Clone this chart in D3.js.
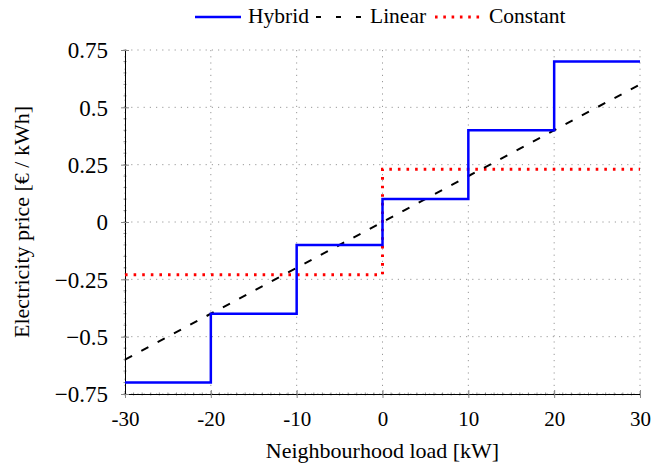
<!DOCTYPE html>
<html>
<head>
<meta charset="utf-8">
<script src="https://cdn.jsdelivr.net/npm/d3@7"></script>
<style>
  body { margin: 0; background: #fff; }
  svg text { font-family: "Liberation Serif", "Times New Roman", Times, serif !important; fill: #000; }
  .grid line { stroke: #999; stroke-dasharray: 1.2,5; }
</style>
</head>
<body>
<svg width="654" height="468"></svg>
<script>
// step edges of the hybrid tariff
var hybridX = [-30, -20, -20, -10, -10, 0, 0, 10, 10, 20, 20, 30];
var hybridY = [-0.7, -0.7, -0.4, -0.4, -0.1, -0.1, 0.1, 0.1, 0.4, 0.4, 0.7, 0.7];
var linearX = [-30, 30];
var linearY = [-0.6, 0.6];
var constantX = [-30, 0, 0, 30];
var constantY = [-0.23, -0.23, 0.23, 0.23];
var xTicks = [-30, -20, -10, 0, 10, 20, 30];
var yTicks = [-0.75, -0.5, -0.25, 0, 0.25, 0.5, 0.75];
var seriesNames = ["Hybrid", "Linear", "Constant"];

var svg = d3.select("svg"),
    margin = {top: 50, right: 14, bottom: 74, left: 125},
    width = +svg.attr("width") - margin.left - margin.right,
    height = +svg.attr("height") - margin.top - margin.bottom;

var x = d3.scaleLinear().domain([-30, 30]).range([0, width]),
    y = d3.scaleLinear().domain([-0.75, 0.75]).range([height, 0]);

var g = svg.append("g")
    .attr("transform", "translate(" + margin.left + "," + margin.top + ")");

// dotted grid
g.append("g").attr("class", "grid")
    .selectAll("line").data(xTicks).enter().append("line")
    .attr("x1", function(d) { return x(d); }).attr("x2", function(d) { return x(d); })
    .attr("y1", 0).attr("y2", height);
g.append("g").attr("class", "grid")
    .selectAll("line").data(yTicks).enter().append("line")
    .attr("y1", function(d) { return y(d); }).attr("y2", function(d) { return y(d); })
    .attr("x1", 0).attr("x2", width);

var fmtY = function(d) { return d < 0 ? "\u2212" + Math.abs(d) : "" + d; };

// minor ticks
var minorX = d3.range(-30, 30.01, 1), minorY = d3.range(-0.75, 0.751, 0.05);
g.append("g").selectAll("line").data(minorX).enter().append("line")
    .attr("x1", function(d) { return x(d); }).attr("x2", function(d) { return x(d); })
    .attr("y1", height - 1.5).attr("y2", height + 1.5)
    .attr("stroke", "#444").attr("stroke-width", 0.6);
g.append("g").selectAll("line").data(minorY).enter().append("line")
    .attr("y1", function(d) { return y(d); }).attr("y2", function(d) { return y(d); })
    .attr("x1", -1.5).attr("x2", 1.5)
    .attr("stroke", "#444").attr("stroke-width", 0.6);

var xAxis = g.append("g")
    .attr("transform", "translate(0," + height + ")")
    .call(d3.axisBottom(x).tickValues(xTicks).tickFormat(function(d) { return String(d); })
        .tickSize(4).tickPadding(13).tickSizeOuter(0));
var yAxis = g.append("g")
    .call(d3.axisLeft(y).tickValues(yTicks).tickFormat(fmtY).tickSize(4).tickPadding(13).tickSizeOuter(0));

[xAxis, yAxis].forEach(function(a) {
    a.select(".domain").attr("stroke", "#000").attr("stroke-width", 1);
    a.selectAll(".tick line").attr("stroke", "#888");
});
xAxis.selectAll("text").style("font-size", "21px");
yAxis.selectAll("text").style("font-size", "23px").attr("dy", "0.34em");
// ticks poke through to the inside as well
xAxis.selectAll(".tick").append("line").attr("y2", -4).attr("stroke", "#888");
yAxis.selectAll(".tick").append("line").attr("x2", 4).attr("stroke", "#888");

function pts(xs, ys) { return xs.map(function(v, i) { return [x(v), y(ys[i])]; }); }
var line = d3.line();

var styles = [
    {stroke: "#0000ff", width: 2.5, dash: null},
    {stroke: "#000", width: 2, dash: "8,10.5"},
    {stroke: "#ff0000", width: 3, dash: "2.6,6"}
];
var series = [pts(constantX, constantY), pts(linearX, linearY), pts(hybridX, hybridY)];
var order = [2, 1, 0];
series.forEach(function(p, i) {
    var s = styles[order[i]];
    g.append("path").attr("d", line(p)).attr("fill", "none")
        .attr("stroke", s.stroke).attr("stroke-width", s.width)
        .attr("stroke-dasharray", s.dash);
});

// legend
var legendPos = [195, 316, 435];
var legendLen = [46, 46, 48];
var legendText = [248, 370, 489];
var legendDash = [null, "5,15", "2.6,5.7"];
var leg = svg.append("g").attr("transform", "translate(0,17)");
seriesNames.forEach(function(name, i) {
    var s = styles[i];
    leg.append("line").attr("x1", legendPos[i]).attr("x2", legendPos[i] + legendLen[i])
        .attr("stroke", s.stroke).attr("stroke-width", s.width)
        .attr("stroke-dasharray", legendDash[i]);
    leg.append("text").attr("x", legendText[i]).attr("y", 6)
        .style("font-size", "21.5px").text(name);
});

// axis titles
svg.append("text")
    .attr("x", margin.left + width / 2).attr("y", 458)
    .attr("text-anchor", "middle").style("font-size", "22px")
    .text("Neighbourhood load [kW]");
svg.append("text")
    .attr("transform", "translate(29," + (margin.top + height / 2) + ") rotate(-90)")
    .attr("text-anchor", "middle").style("font-size", "22px")
    .text("Electricity price [\u20ac / kWh]");
</script>
</body>
</html>
